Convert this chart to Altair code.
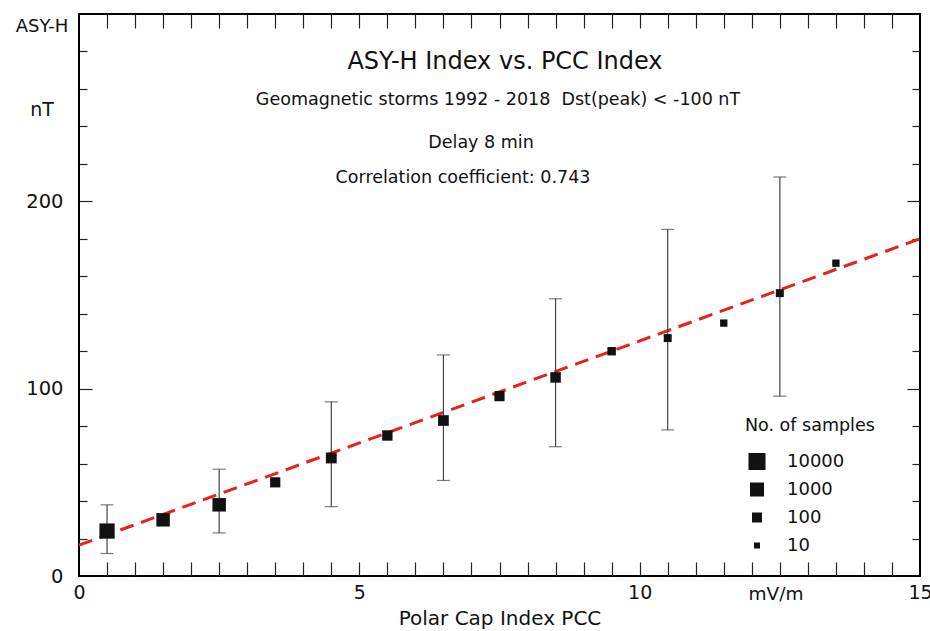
import altair as alt
import pandas as pd

# ---- data ----
pcc = [0.5, 1.5, 2.5, 3.5, 4.5, 5.5, 6.5, 7.5, 8.5, 9.5, 10.5, 11.5, 12.5, 13.5]
asyh = [24, 30, 38, 50, 63, 75, 83, 96, 106, 120, 127, 135, 151, 167]
samples = [2500, 700, 700, 110, 150, 120, 140, 110, 130, 36, 27, 19, 27, 19]

err_x = [0.5, 2.5, 4.5, 6.5, 8.5, 10.5, 12.5]
err_lo = [12, 23, 37, 51, 69, 78, 96]
err_hi = [38, 57, 93, 118, 148, 185, 213]

fit_x = [0, 15]
fit_y = [16.5, 180]

legend_values = [10000, 1000, 100, 10]
x_label_ticks = [0, 5, 10, 15]
y_label_ticks = [0, 100, 200]
x_minor_ticks = [i * 0.5 for i in range(1, 30)]
y_minor_ticks = [20, 40, 60, 80, 120, 140, 160, 180, 220, 240, 260, 280]
y_major_ticks = [100, 200]

title_text = "ASY-H Index vs. PCC Index"
sub_text = "Geomagnetic storms 1992 - 2018\u00a0 Dst(peak) < -100 nT"
delay_text = "Delay 8 min"
corr_text = "Correlation coefficient: 0.743"

FONT = "DejaVu Sans"
W, H = 841, 562
L, T = 79, 14

pts = pd.DataFrame({"pcc": pcc, "asyh": asyh, "samples": samples})
err = pd.DataFrame({"pcc": err_x, "lo": err_lo, "hi": err_hi})
fit = pd.DataFrame({"pcc": fit_x, "asyh": fit_y})

xs = alt.Scale(domain=[0, 15], nice=False, zero=False)
ys = alt.Scale(domain=[0, 300], nice=False, zero=False)

TICKC = "#222"


def tick_axis(orient, values, size, offset):
    return alt.Axis(orient=orient, values=values, tickSize=size, offset=offset,
                    labels=False, domain=False, grid=False, title=None,
                    tickColor=TICKC, tickWidth=1.2)


# regression line + label axes
line = alt.Chart(fit).mark_line(color="#e8211c", strokeWidth=3, strokeDash=[14, 8]).encode(
    x=alt.X("pcc:Q", scale=xs, axis=alt.Axis(
        orient="bottom", values=x_label_ticks, ticks=False, tickSize=0, domain=False, grid=False,
        labelFontSize=19, labelFont=FONT, labelColor="#111", labelPadding=7,
        labelFlush=False, labelOverlap=False, format="d",
        title="Polar Cap Index PCC", titleFontSize=20, titleFont=FONT,
        titleFontWeight="normal", titleColor="#111", titlePadding=6)),
    y=alt.Y("asyh:Q", scale=ys, axis=alt.Axis(
        orient="left", values=y_label_ticks, ticks=False, tickSize=0, domain=False, grid=False,
        labelFontSize=19.5, labelFont=FONT, labelColor="#111", labelPadding=16, title=None,
        format="d")),
)

rules = alt.Chart(err).mark_rule(color="#444", strokeWidth=1.2).encode(
    x=alt.X("pcc:Q", scale=xs, axis=tick_axis("top", x_minor_ticks, 14, -H)),
    y=alt.Y("lo:Q", scale=ys, axis=tick_axis("right", y_minor_ticks, 8, -W)),
    y2="hi:Q",
)

caps_lo = alt.Chart(err).mark_tick(orient="horizontal", size=13, thickness=1.2, color="#444").encode(
    x=alt.X("pcc:Q", scale=xs, axis=tick_axis("bottom", x_minor_ticks, 14, -H)),
    y=alt.Y("lo:Q", scale=ys, axis=tick_axis("right", y_major_ticks, 13, -W)),
)

caps_hi = alt.Chart(err).mark_tick(orient="horizontal", size=13, thickness=1.2, color="#444").encode(
    x=alt.X("pcc:Q", scale=xs, axis=None),
    y=alt.Y("hi:Q", scale=ys, axis=tick_axis("left", y_minor_ticks, 8, -W)),
)

points = alt.Chart(pts).mark_square(color="#111", opacity=1).encode(
    x=alt.X("pcc:Q", scale=xs, axis=None),
    y=alt.Y("asyh:Q", scale=ys, axis=tick_axis("left", y_major_ticks, 13, -W)),
    size=alt.Size("samples:Q",
                  scale=alt.Scale(type="log", domain=[10, 100, 1000, 10000], range=[36, 100, 196, 289]),
                  legend=alt.Legend(
                      title="No. of samples", orient="none", legendX=666, legendY=403,
                      values=legend_values, format="d", symbolType="square",
                      symbolFillColor="#111", symbolStrokeColor="#111", symbolStrokeWidth=0,
                      symbolOpacity=1, symbolOffset=3,
                      titleFont=FONT, titleFontSize=17.5, titleFontWeight="normal", titleColor="#111",
                      titlePadding=18, labelFont=FONT, labelFontSize=18, labelColor="#111",
                      labelOffset=21, rowPadding=10)),
)


def label(text, x, y, size, align="center"):
    return alt.Chart(pd.DataFrame({"t": [text]})).mark_text(
        font=FONT, fontSize=size, color="#111", align=align, baseline="middle"
    ).encode(text="t:N", x=alt.value(x - L), y=alt.value(y - T))


texts = [
    label(title_text, 505, 62, 24),
    label(sub_text, 498, 100, 17.5),
    label(delay_text, 481, 143, 17.5),
    label(corr_text, 463, 178, 17.5),
    label("ASY-H", 42, 27, 18),
    label("nT", 42, 110, 19),
    label("mV/m", 776, 594, 18.5),
]

chart = alt.layer(line, rules, caps_lo, caps_hi, points, *texts).resolve_axis(
    x="independent", y="independent"
).properties(
    width=W, height=H,
    autosize=alt.AutoSizeParams(type="none"),
    padding={"left": L, "top": T, "right": 10, "bottom": 55},
    background="white",
).configure_view(stroke="black", strokeWidth=2)

chart.save("out.html", embed_options={"renderer": "svg", "actions": False})
